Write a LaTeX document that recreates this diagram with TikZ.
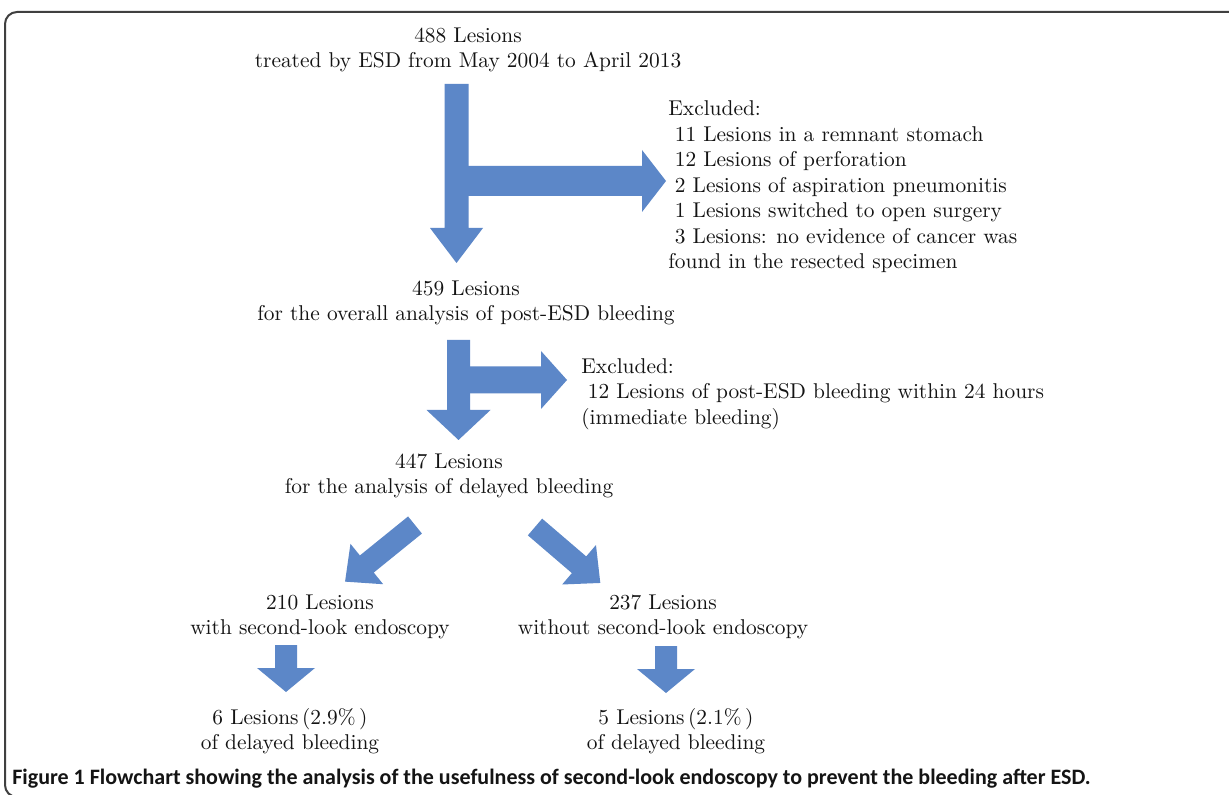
\documentclass[tikz,border=0pt]{standalone}
\usepackage{fontspec}
\newfontfamily\capfont{Carlito}
\definecolor{arrowblue}{RGB}{92,135,200}
\definecolor{inkcol}{RGB}{20,20,20}
\tikzset{
  arrowfill/.style={fill=arrowblue},
  lbl/.style={font=\fontsize{10.7}{12.75}\selectfont, align=center, inner sep=0pt, text=inkcol},
  lbll/.style={lbl, align=left},
  framebox/.style={draw=black!75, line width=1pt, rounded corners=6pt},
}
% #1 start coordinate, #2 canvas angle, #3 length, #4 shaft half width, #5 head half width, #6 head length
\newcommand\blockarr[6]{%
  \fill[arrowfill, shift={#1}, rotate=#2]
    (0,-#4) -- ({#3-#6},-#4) -- ({#3-#6},-#5) -- (#3,0) -- ({#3-#6},#5) -- ({#3-#6},#4) -- (0,#4) -- cycle;}
\begin{document}
\begin{tikzpicture}[x=0.5pt,y=-0.5pt]
\useasboundingbox (0,0) rectangle (1229,795);
\fill[white] (0,0) rectangle (1229,795);
\draw[framebox] (5,12) rectangle (1250,797);

% text nodes
\node[lbl] (n488) at (468,50) {488 Lesions\\treated by ESD from May 2004 to April 2013};
\node[lbll, anchor=west] (ex1) at (668,187) {Excluded:\\
\hspace{0.3em}11 Lesions in a remnant stomach\\
\hspace{0.3em}12 Lesions of perforation\\
\hspace{0.3em}2 Lesions of aspiration pneumonitis\\
\hspace{0.3em}1 Lesions switched to open surgery\\
\hspace{0.3em}3 Lesions: no evidence of cancer was\\
found in the resected specimen};
\node[lbl] (n459) at (466,303) {459 Lesions\\for the overall analysis of post-ESD bleeding};
\node[lbll, anchor=west] (ex2) at (581,394) {Excluded:\\
\hspace{0.3em}12 Lesions of post-ESD bleeding within 24 hours\\
(immediate bleeding)};
\node[lbl] (n447) at (449,476) {447 Lesions\\for the analysis of delayed bleeding};
\node[lbl] (n210) at (320,617) {210 Lesions\\with second-look endoscopy};
\node[lbl] (n237) at (663,617) {237 Lesions\\without second-look endoscopy};
\node[lbl] (r6) at (290,731) {6 Lesions\,(2.9\%\,)\\of delayed bleeding};
\node[lbl] (r5) at (676,731) {5 Lesions\,(2.1\%\,)\\of delayed bleeding};
\node[anchor=west, inner sep=0pt, text=inkcol, font=\capfont\bfseries\fontsize{11}{12}\selectfont] (cap) at (12,779)
  {Figure 1 Flowchart showing the analysis of the usefulness of second-look endoscopy to prevent the bleeding after ESD.};

% arrow anchor coordinates
\coordinate (a1v) at (456.5,84);
\coordinate (a1h) at (456,181);
\coordinate (a2v) at (458.5,340);
\coordinate (a2h) at (458,380);
\coordinate (adl) at (415,525);
\coordinate (adr) at (535,527);
\coordinate (asl) at (286,645);
\coordinate (asr) at (666,646);

\blockarr{(a1h)}{0}{210}{15}{31}{24}
\blockarr{(a1v)}{-90}{179}{12}{26.5}{35}
\blockarr{(a2h)}{0}{109}{13.5}{29}{26}
\blockarr{(a2v)}{-90}{100}{11.5}{32}{30}
\blockarr{(adl)}{-141}{90}{11}{26}{28}
\blockarr{(adr)}{-40.6}{86}{11}{26}{28}
\blockarr{(asl)}{-90}{47}{11}{29}{24}
\blockarr{(asr)}{-90}{47}{11}{29}{24}
\end{tikzpicture}
\end{document}
